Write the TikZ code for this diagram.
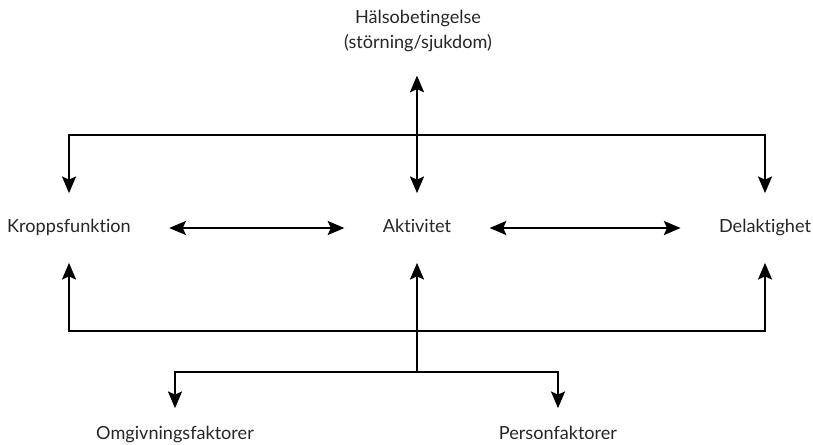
\documentclass[tikz,border=0pt]{standalone}
\usepackage{fontspec}
\setmainfont{Lato}[Ligatures=NoCommon]
\usetikzlibrary{arrows.meta}

\begin{document}
\begin{tikzpicture}[x=0.02cm, y=-0.02cm, >={Stealth[length=9.5pt,width=8pt,inset=1.8pt]}, line width=1.1pt,
		every node/.style={text=black!85, font=\fontsize{10.3}{12}\selectfont},
		faktor/.style={inner xsep=0.75cm, inner ysep=0.52cm, text height=7pt, text depth=2pt},
		kontext/.style={inner xsep=0pt, inner ysep=0.36cm, text height=7pt, text depth=2pt}]
	\useasboundingbox (0,0) rectangle (813,444);
	
	% Noder
	\node[align=center, inner sep=0pt] (halsa) at (418,31) {Hälsobetingelse\\[2pt](störning/sjukdom)};
	\node[faktor] (kropp) at (69,228) {Kroppsfunktion};
	\node[faktor] (akt) at (417,228) {Aktivitet};
	\node[faktor] (delak) at (765,228) {Delaktighet};
	\node[kontext] (omg) at (175,435) {Omgivningsfaktorer};
	\node[kontext] (person) at (558,435) {Personfaktorer};
	
	% Knutpunkter
	\coordinate (topp) at (417,135);
	\coordinate (botten) at (417,331);
	\coordinate (gren) at (417,372);
	
	% Pilar
	\draw[<->, shorten >=0.46cm] (akt) -- (akt |- halsa.south);
	\draw[->] (topp) -| (kropp);
	\draw[->] (topp) -| (delak);
	\draw[<->] (kropp) -- (akt);
	\draw[<->] (akt) -- (delak);
	\draw[->] (botten) -| (kropp);
	\draw[->] (botten) -| (delak);
	\draw[->] (gren) -- (akt);
	\draw[->] (gren) -| (omg);
	\draw[->] (gren) -| (person);
\end{tikzpicture}
\end{document}
